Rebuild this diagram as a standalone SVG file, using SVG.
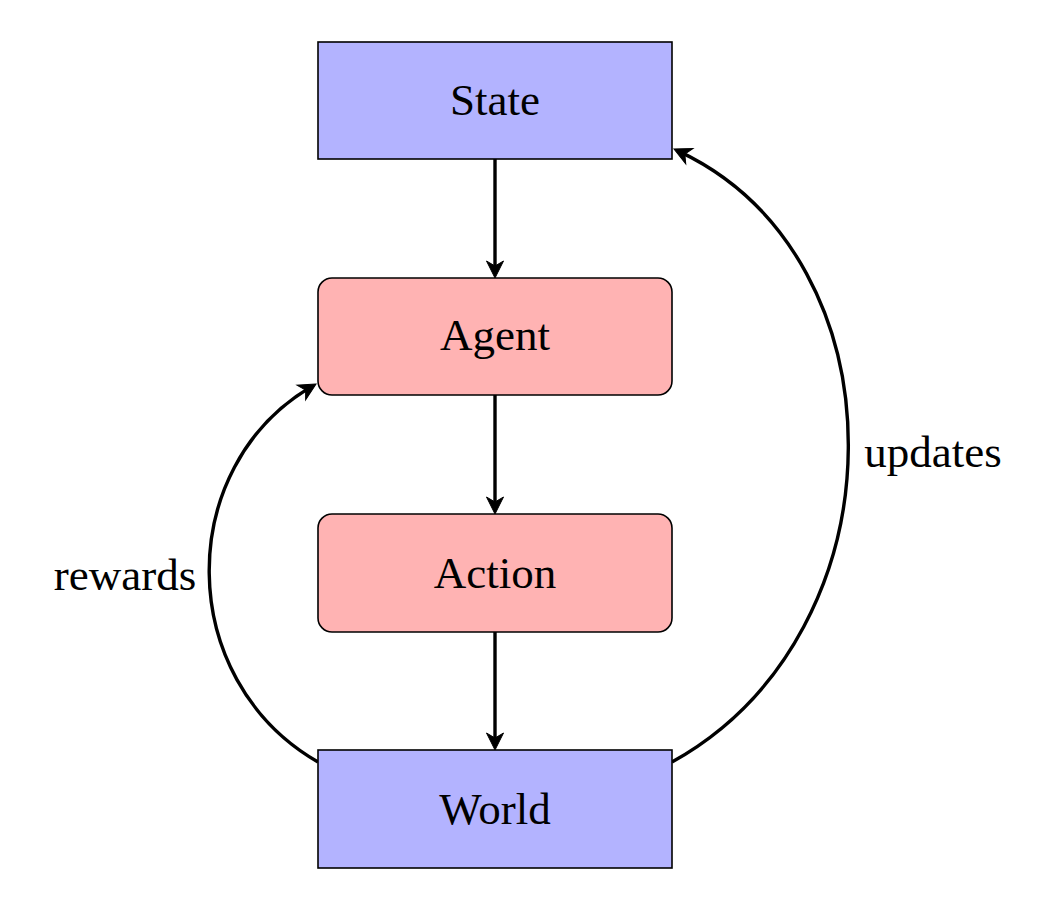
<svg xmlns="http://www.w3.org/2000/svg" width="1060" height="911" viewBox="0 0 1060 911">
<style>
.blue{fill:#b3b3ff;stroke:#000;stroke-width:1.6}
.red{fill:#ffb3b3;stroke:#000;stroke-width:1.6}
.lbl{font-size:45px;fill:#000;text-anchor:middle}
.edge{fill:none;stroke:#000;stroke-width:3.4}
</style>
<defs>
<marker id="stealth" viewBox="-20 -11 22 22" refX="-5" refY="0" markerWidth="22" markerHeight="22" markerUnits="userSpaceOnUse" orient="auto">
<path d="M0,0 L-17,-8.5 L-12,0 L-17,8.5 Z" fill="#000" stroke="#000" stroke-width="1" stroke-linejoin="miter"/>
</marker>
</defs>
<rect width="1060" height="911" fill="#fff"/>
<g id="connectors">
<path class="edge" d="M495,159 L495,273" marker-end="url(#stealth)"/>
<path class="edge" d="M495,395 L495,509" marker-end="url(#stealth)"/>
<path class="edge" d="M495,632 L495,745" marker-end="url(#stealth)"/>
<path class="edge" d="M672,762 C906,632 906,258 678.5,151.1" marker-end="url(#stealth)"/>
<path class="edge" d="M318,762 C174,679 174,467 311.7,386.5" marker-end="url(#stealth)"/>
<text class="lbl" x="933" y="467" font-family="Liberation Serif, serif">updates</text>
<text class="lbl" x="125" y="590" font-family="Liberation Serif, serif">rewards</text>
</g>
<g id="state">
<rect class="blue" x="318" y="42" width="354" height="117"/>
<text class="lbl" x="495" y="115" font-family="Liberation Serif, serif">State</text>
</g>
<g id="agent">
<rect class="red" x="318" y="278" width="354" height="117" rx="14" ry="14"/>
<text class="lbl" x="495" y="350" font-family="Liberation Serif, serif">Agent</text>
</g>
<g id="action">
<rect class="red" x="318" y="514" width="354" height="118" rx="14" ry="14"/>
<text class="lbl" x="495" y="588" font-family="Liberation Serif, serif">Action</text>
</g>
<g id="world">
<rect class="blue" x="318" y="750" width="354" height="118"/>
<text class="lbl" x="495" y="824" font-family="Liberation Serif, serif">World</text>
</g>
</svg>
